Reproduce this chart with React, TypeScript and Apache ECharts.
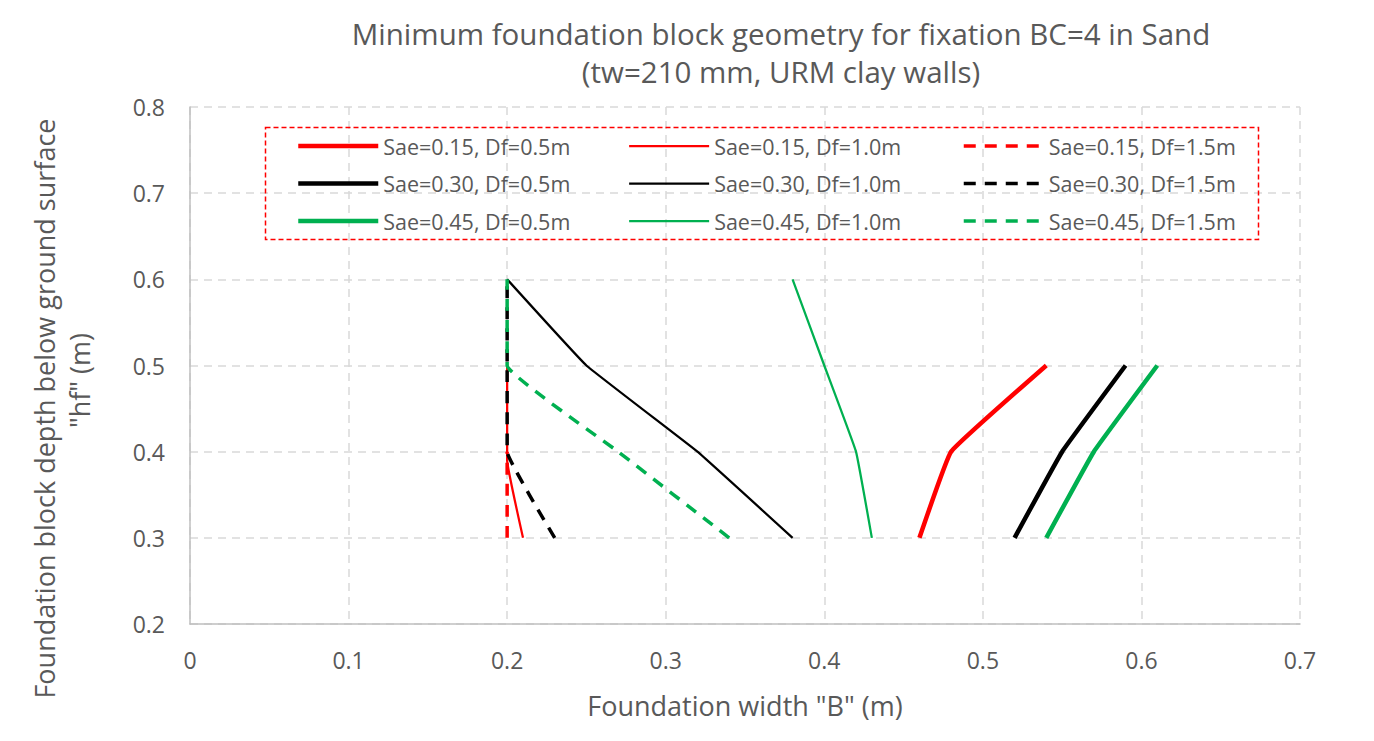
import React, { useEffect, useRef } from "react";
import * as echarts from "echarts";

const titleLines = ["Minimum foundation block geometry for fixation BC=4 in Sand", "(tw=210 mm, URM clay walls)"];
const xTicks = [0, 0.1, 0.2, 0.3, 0.4, 0.5, 0.6, 0.7];
const yTicks = [0.2, 0.3, 0.4, 0.5, 0.6, 0.7, 0.8];

// [B, hf]
const sae015df05: number[][] = [[0.46, 0.3], [0.48, 0.4], [0.54, 0.5]];
const sae015df10: number[][] = [[0.21, 0.3], [0.2, 0.39], [0.2, 0.5]];
const sae015df15: number[][] = [[0.2, 0.3], [0.2, 0.4]];
const sae030df05: number[][] = [[0.52, 0.3], [0.55, 0.4], [0.59, 0.5]];
const sae030df10: number[][] = [[0.38, 0.3], [0.32, 0.4], [0.25, 0.5], [0.2, 0.6]];
const sae030df15: number[][] = [[0.23, 0.3], [0.2, 0.4], [0.2, 0.5], [0.2, 0.6]];
const sae045df05: number[][] = [[0.54, 0.3], [0.57, 0.4], [0.61, 0.5]];
const sae045df10: number[][] = [[0.43, 0.3], [0.42, 0.4], [0.4, 0.5], [0.38, 0.6]];
const sae045df15: number[][] = [[0.34, 0.3], [0.27, 0.4], [0.2, 0.5], [0.2, 0.6]];

const RED = "#ff0000";
const BLACK = "#000000";
const GREEN = "#00b050";

const DASH = [12, 9];

const seriesDefs = [
  { name: "Sae=0.15, Df=0.5m", data: sae015df05, color: RED, width: 4.5, dash: "solid" as any },
  { name: "Sae=0.30, Df=0.5m", data: sae030df05, color: BLACK, width: 4.5, dash: "solid" as any },
  { name: "Sae=0.45, Df=0.5m", data: sae045df05, color: GREEN, width: 4.5, dash: "solid" as any },
  { name: "Sae=0.15, Df=1.0m", data: sae015df10, color: RED, width: 2.25, dash: "solid" as any },
  { name: "Sae=0.30, Df=1.0m", data: sae030df10, color: BLACK, width: 2.25, dash: "solid" as any },
  { name: "Sae=0.45, Df=1.0m", data: sae045df10, color: GREEN, width: 2.25, dash: "solid" as any },
  { name: "Sae=0.15, Df=1.5m", data: sae015df15, color: RED, width: 3.5, dash: DASH as any },
  { name: "Sae=0.30, Df=1.5m", data: sae030df15, color: BLACK, width: 3.5, dash: DASH as any },
  { name: "Sae=0.45, Df=1.5m", data: sae045df15, color: GREEN, width: 3.5, dash: DASH as any },
];

const FONT = "'Open Sans', 'Noto Sans', sans-serif";
const GREY = "#595959";

export default function App() {
  const ref = useRef<HTMLDivElement>(null);
  useEffect(() => {
    if (!ref.current) return;
    const chart = echarts.init(ref.current, null, { renderer: "svg" });
    const legendCol = (defs: typeof seriesDefs, left: number) => ({
      orient: "vertical" as const,
      left,
      top: 135,
      itemWidth: 80,
      itemHeight: 14,
      itemGap: 15.5,
      padding: 0,
      data: defs.map((s) => ({
        name: s.name,
        itemStyle: { color: "transparent", borderWidth: 0, opacity: 0 },
        lineStyle: { color: s.color, width: s.width, type: s.dash },
      })),
      textStyle: { fontFamily: FONT, fontSize: 21.5, color: GREY },
      selectedMode: false,
    });
    chart.setOption({
      animation: false,
      backgroundColor: "#ffffff",
      textStyle: { fontFamily: FONT },
      title: {
        text: titleLines.join("\n"),
        left: 781,
        textAlign: "center",
        top: 14,
        padding: 0,
        textStyle: { fontFamily: FONT, fontSize: 29.5, fontWeight: "normal", color: GREY, lineHeight: 38 },
      },
      legend: [
        legendCol(seriesDefs.slice(0, 3), 296),
        legendCol(seriesDefs.slice(3, 6), 628),
        legendCol(seriesDefs.slice(6, 9), 962),
      ],
      grid: { left: 190, right: 74, top: 107, bottom: 117, containLabel: false, outerBoundsMode: "none" },
      xAxis: {
        type: "value",
        min: xTicks[0],
        max: xTicks[xTicks.length - 1],
        interval: 0.1,
        name: 'Foundation width "B" (m)',
        nameLocation: "middle",
        nameGap: 68,
        nameTextStyle: { fontFamily: FONT, fontSize: 27, color: GREY },
        axisLine: { show: true, lineStyle: { color: "#bfbfbf", width: 1.5 } },
        axisTick: { show: false },
        axisLabel: {
          fontFamily: FONT,
          fontSize: 23,
          color: GREY,
          margin: 24,
          formatter: (v: number) => String(Math.round(v * 10) / 10),
        },
        splitLine: { show: true, lineStyle: { color: "#d9d9d9", type: [8, 6], width: 1.5 } },
      },
      yAxis: {
        type: "value",
        min: yTicks[0],
        max: yTicks[yTicks.length - 1],
        interval: 0.1,
        name: 'Foundation block depth below ground surface        \n"hf" (m)',
        nameLocation: "middle",
        nameGap: 93,
        nameTextStyle: { fontFamily: FONT, fontSize: 27, color: GREY, lineHeight: 35, padding: [0, 30, 0, 0] },
        axisLine: { show: true, lineStyle: { color: "#bfbfbf", width: 1.5 } },
        axisTick: { show: false },
        axisLabel: {
          fontFamily: FONT,
          fontSize: 23,
          color: GREY,
          margin: 25,
          formatter: (v: number) => (Math.round(v * 10) / 10).toFixed(1),
        },
        splitLine: { show: true, lineStyle: { color: "#d9d9d9", type: [8, 6], width: 1.5 } },
      },
      graphic: [
        {
          type: "rect",
          shape: { x: 265.5, y: 127.5, width: 993, height: 112 },
          style: { fill: "none", stroke: "#ff0000", lineWidth: 1.5, lineDash: [5, 3] },
          silent: true,
          z: 100,
        },
      ],
      series: seriesDefs.map((s) => ({
        name: s.name,
        type: "line",
        data: s.data,
        symbol: "none",
        smooth: 0.08,
        color: s.color,
        lineStyle: { color: s.color, width: s.width, type: s.dash, cap: "butt" },
        itemStyle: { color: s.color },
      })),
    });
    return () => chart.dispose();
  }, []);
  return <div ref={ref} style={{ width: 1374, height: 741, position: "absolute", left: 0, top: 0 }} />;
}
